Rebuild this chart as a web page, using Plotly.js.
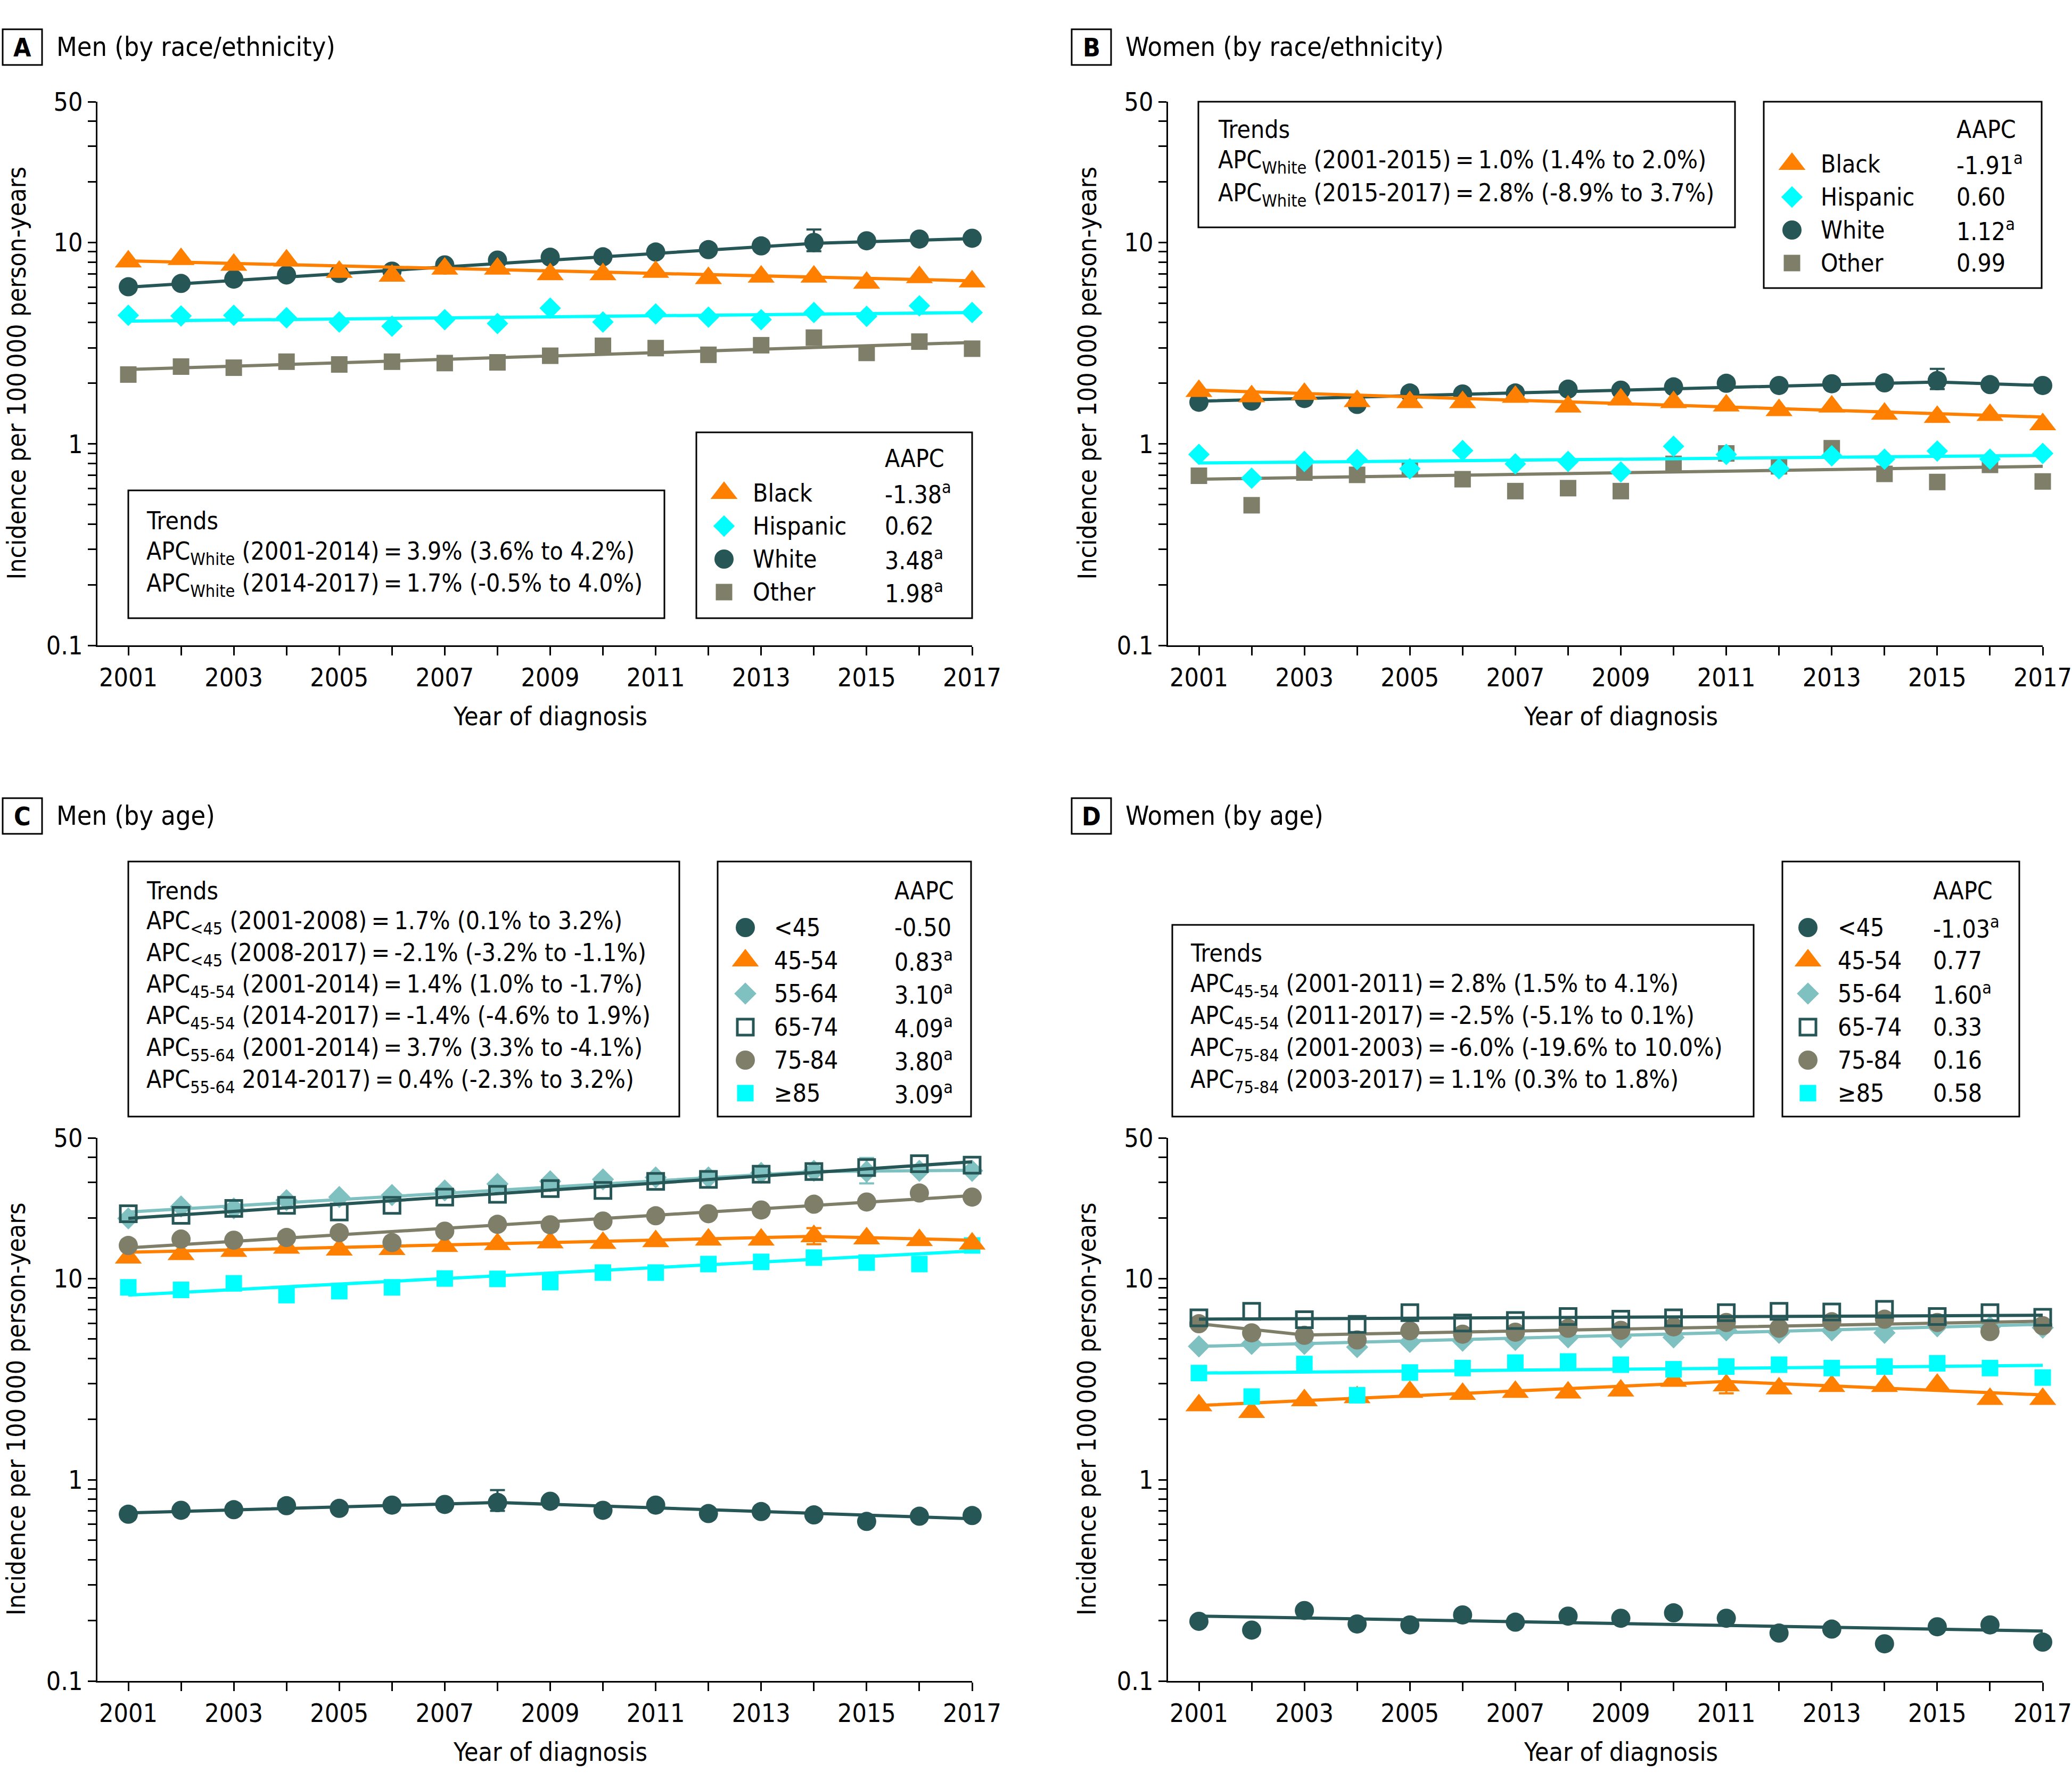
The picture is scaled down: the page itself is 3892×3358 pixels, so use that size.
<!DOCTYPE html>
<html>
<head>
<meta charset="utf-8">
<script src="https://cdn.plot.ly/plotly-3.0.1.min.js"></script>
<style>html,body{margin:0;padding:0;background:#fff;}#chart{width:3892px;height:3358px;}</style>
</head>
<body>
<div id="chart"></div>
<script>
// ---------------- DATA ----------------
const years = [2001,2002,2003,2004,2005,2006,2007,2008,2009,2010,2011,2012,2013,2014,2015,2016,2017];
const xTickVals = [2001,2003,2005,2007,2009,2011,2013,2015,2017];
const xTickText = ['2001','2003','2005','2007','2009','2011','2013','2015','2017'];
const xMinorVals = [2002,2004,2006,2008,2010,2012,2014,2016];
const yTickVals = [0.1, 1, 10, 50];
const yTickText = ['0.1', '1', '10', '50'];
const yMinorVals = [0.2,0.3,0.4,0.5,0.6,0.7,0.8,0.9,2,3,4,5,6,7,8,9,20,30,40];

// Panel A: Men by race/ethnicity
const aBlack    = [8.04,8.26,7.74,8.13,7.14,6.83,7.41,7.41,6.95,6.95,7.14,6.65,6.76,6.76,6.30,6.72,6.40];
const aHispanic = [4.35,4.32,4.35,4.23,4.03,3.84,4.14,3.96,4.72,4.03,4.42,4.26,4.14,4.49,4.30,4.85,4.49];
const aWhite    = [6.03,6.26,6.58,6.90,7.02,7.21,7.74,8.18,8.45,8.49,8.97,9.22,9.62,10.0,10.2,10.4,10.5];
const aOther    = [2.21,2.42,2.39,2.56,2.48,2.56,2.52,2.54,2.74,3.07,2.99,2.77,3.09,3.37,2.83,3.22,2.97];
const aBlackFitX = [2001,2017],       aBlackFitY = [8.1,6.45];
const aHispFitX  = [2001,2017],       aHispFitY  = [4.07,4.49];
const aWhiteFitX = [2001,2014,2017],  aWhiteFitY = [6.0,9.9,10.45];
const aOtherFitX = [2001,2017],       aOtherFitY = [2.34,3.19];
const aWhiteErr = {year:2014, value:10.0, plus:1.6, minus:0.95};

// Panel B: Women by race/ethnicity
const bBlack    = [1.83,1.72,1.77,1.63,1.61,1.61,1.71,1.53,1.66,1.61,1.55,1.47,1.53,1.41,1.36,1.39,1.25];
const bHispanic = [0.887,0.676,0.818,0.836,0.753,0.927,0.796,0.818,0.726,0.973,0.887,0.753,0.873,0.840,0.922,0.840,0.897];
const bWhite    = [1.61,1.63,1.68,1.57,1.79,1.77,1.79,1.87,1.85,1.92,2.00,1.95,1.99,2.01,2.06,1.97,1.95];
const bOther    = [0.695,0.496,0.721,0.702,0.753,0.668,0.583,0.603,0.583,0.796,0.897,0.774,0.952,0.710,0.647,0.787,0.651];
const bBlackFitX = [2001,2017],       bBlackFitY = [1.85,1.36];
const bHispFitX  = [2001,2017],       bHispFitY  = [0.804,0.877];
const bWhiteFitX = [2001,2015,2017],  bWhiteFitY = [1.63,2.03,1.95];
const bOtherFitX = [2001,2017],       bOtherFitY = [0.668,0.774];
const bWhiteErr = {year:2015, value:2.06, plus:0.30, minus:0.19};

// Panel C: Men by age
const cLt45 = [0.674,0.705,0.710,0.743,0.721,0.748,0.754,0.771,0.782,0.705,0.748,0.679,0.695,0.669,0.621,0.659,0.664];
const c4554 = [12.7,13.2,13.7,14.2,13.9,14.0,14.5,14.8,15.1,15.0,15.3,15.6,15.6,16.2,15.8,15.5,14.9];
const c5564 = [19.9,22.8,22.3,24.5,25.4,26.0,27.4,29.5,30.4,31.1,31.8,31.8,33.5,34.3,34.0,34.3,34.3];
const c6574 = [21.0,20.6,22.3,23.1,21.4,23.1,25.4,26.2,28.0,27.4,30.4,31.1,33.0,34.0,35.6,37.2,36.6];
const c7584 = [14.6,15.7,15.5,16.0,16.9,15.1,17.2,18.6,18.5,19.3,20.5,21.0,21.9,23.4,24.0,26.6,25.4];
const c85   = [9.04,8.78,9.46,8.27,8.65,9.04,10.0,9.96,9.60,10.7,10.7,11.8,12.1,12.7,12.0,11.8,14.6];
const cLt45FitX = [2001,2008,2017], cLt45FitY = [0.684,0.771,0.64];
const c4554FitX = [2001,2014,2017], c4554FitY = [13.5,16.2,15.5];
const c5564FitX = [2001,2014,2017], c5564FitY = [21.4,34.0,34.5];
const c6574FitX = [2001,2017],      c6574FitY = [19.9,38.0];
const c7584FitX = [2001,2017],      c7584FitY = [14.2,25.8];
const c85FitX   = [2001,2017],      c85FitY   = [8.27,13.7];
const cLt45Err = {year:2008, value:0.771, plus:0.117, minus:0.071};
const c4554Err = {year:2014, value:16.2, plus:1.6, minus:1.4};
const c5564Err = {year:2015, value:34.0, plus:5.7, minus:4.3};

// Panel D: Women by age
const dLt45 = [0.198,0.179,0.224,0.192,0.190,0.213,0.196,0.210,0.205,0.218,0.205,0.173,0.181,0.153,0.186,0.190,0.156];
const d4554 = [2.34,2.17,2.48,2.57,2.73,2.67,2.73,2.71,2.77,3.10,2.94,2.84,2.92,2.92,2.96,2.52,2.52];
const d5564 = [4.60,4.73,4.73,4.56,4.84,4.91,4.95,5.10,5.10,5.10,5.53,5.37,5.53,5.37,5.79,5.75,5.70];
const d6574 = [6.38,6.87,6.24,5.92,6.77,6.01,6.19,6.47,6.28,6.38,6.77,6.87,6.82,7.03,6.47,6.77,6.42];
const d7584 = [5.96,5.37,5.22,4.95,5.50,5.29,5.41,5.66,5.53,5.75,6.05,5.66,6.10,6.28,6.05,5.45,5.83];
const d85   = [3.39,2.59,3.76,2.63,3.41,3.59,3.82,3.87,3.73,3.54,3.65,3.73,3.59,3.65,3.79,3.59,3.22];
const dLt45FitX = [2001,2017],      dLt45FitY = [0.210,0.177];
const d4554FitX = [2001,2011,2017], d4554FitY = [2.34,3.08,2.64];
const d5564FitX = [2001,2017],      d5564FitY = [4.60,5.92];
const d6574FitX = [2001,2017],      d6574FitY = [6.28,6.57];
const d7584FitX = [2001,2003,2017], d7584FitY = [5.96,5.24,6.14];
const d85FitX   = [2001,2017],      d85FitY   = [3.39,3.70];
const d4554Err = {year:2011, value:2.94, plus:0.45, minus:0.25};

// Text content
const raceLabels = ['Black','Hispanic','White','Other'];
const aAAPC = ['-1.38<sup>a</sup>','0.62','3.48<sup>a</sup>','1.98<sup>a</sup>'];
const bAAPC = ['-1.91<sup>a</sup>','0.60','1.12<sup>a</sup>','0.99'];
const ageLabels = ['<45','45-54','55-64','65-74','75-84','≥85'];
const cAAPC = ['-0.50','0.83<sup>a</sup>','3.10<sup>a</sup>','4.09<sup>a</sup>','3.80<sup>a</sup>','3.09<sup>a</sup>'];
const dAAPC = ['-1.03<sup>a</sup>','0.77','1.60<sup>a</sup>','0.33','0.16','0.58'];
const aTrends = ['APC<sub>White</sub> (2001-2014)\u2009=\u20093.9% (3.6% to 4.2%)',
                 'APC<sub>White</sub> (2014-2017)\u2009=\u20091.7% (-0.5% to 4.0%)'];
const bTrends = ['APC<sub>White</sub> (2001-2015)\u2009=\u20091.0% (1.4% to 2.0%)',
                 'APC<sub>White</sub> (2015-2017)\u2009=\u20092.8% (-8.9% to 3.7%)'];
const cTrends = ['APC<sub>&lt;45</sub> (2001-2008)\u2009=\u20091.7% (0.1% to 3.2%)',
                 'APC<sub>&lt;45</sub> (2008-2017)\u2009=\u2009-2.1% (-3.2% to -1.1%)',
                 'APC<sub>45-54</sub> (2001-2014)\u2009=\u20091.4% (1.0% to -1.7%)',
                 'APC<sub>45-54</sub> (2014-2017)\u2009=\u2009-1.4% (-4.6% to 1.9%)',
                 'APC<sub>55-64</sub> (2001-2014)\u2009=\u20093.7% (3.3% to -4.1%)',
                 'APC<sub>55-64</sub> 2014-2017)\u2009=\u20090.4% (-2.3% to 3.2%)'];
const dTrends = ['APC<sub>45-54</sub> (2001-2011)\u2009=\u20092.8% (1.5% to 4.1%)',
                 'APC<sub>45-54</sub> (2011-2017)\u2009=\u2009-2.5% (-5.1% to 0.1%)',
                 'APC<sub>75-84</sub> (2001-2003)\u2009=\u2009-6.0% (-19.6% to 10.0%)',
                 'APC<sub>75-84</sub> (2003-2017)\u2009=\u20091.1% (0.3% to 1.8%)'];

// ---------------- STYLE / LAYOUT ----------------
const W = 3892, H = 3358;
const FONT = 'DejaVu Sans Condensed, DejaVu Sans, sans-serif';
const ORANGE = '#FF7F00', CYAN = '#00FFFF', TEAL = '#275656', GRAY = '#7F7E69', LTEAL = '#7FC0C0';
const TXT = 48, BOXTXT = 46;

const PX = x => x / W;
const PY = y => 1 - y / H;

const colL = {x0:183, x1:1826, first:241};
const colR = {x0:2194, x1:3837, first:2252};
const rowT = {y0:191, y1:1212};
const rowB = {y0:2137, y1:3157};
const pxPerYear = (colL.x1 - colL.first) / 16;
const XR = [2001 - (colL.first - colL.x0) / pxPerYear, 2017];

const MK = {
  triangle: {symbol:'triangle-up', size:44, color:ORANGE},
  diamondHisp: {symbol:'diamond', size:31, color:CYAN},
  circle: {symbol:'circle', size:36, color:TEAL},
  square: {symbol:'square', size:31, color:GRAY},
  diamond: {symbol:'diamond', size:32, color:LTEAL},
  squareOpen: {symbol:'square-open', size:30, color:TEAL, line:{color:TEAL, width:5}},
  circleGray: {symbol:'circle', size:36, color:GRAY},
  squareCyan: {symbol:'square', size:31, color:CYAN}
};

const traces = [];
function series(ax, y, fitX, fitY, mk, err) {
  traces.push({x:fitX, y:fitY, xaxis:ax[0], yaxis:ax[1], mode:'lines',
    line:{color:mk.color, width:6}, cliponaxis:false, hoverinfo:'skip'});
  traces.push({x:years, y:y, xaxis:ax[0], yaxis:ax[1], mode:'markers',
    marker:Object.assign({}, mk), cliponaxis:false});
  if (err) {
    traces.push({x:[err.year], y:[err.value], xaxis:ax[0], yaxis:ax[1], mode:'markers',
      marker:Object.assign({}, mk), cliponaxis:false,
      error_y:{type:'data', symmetric:false, array:[err.plus], arrayminus:[err.minus],
               color:mk.color, thickness:4, width:14}});
  }
}

// Panel A
series(['x','y'], aOther, aOtherFitX, aOtherFitY, MK.square);
series(['x','y'], aHispanic, aHispFitX, aHispFitY, MK.diamondHisp);
series(['x','y'], aWhite, aWhiteFitX, aWhiteFitY, MK.circle, aWhiteErr);
series(['x','y'], aBlack, aBlackFitX, aBlackFitY, MK.triangle);
// Panel B
series(['x2','y2'], bOther, bOtherFitX, bOtherFitY, MK.square);
series(['x2','y2'], bHispanic, bHispFitX, bHispFitY, MK.diamondHisp);
series(['x2','y2'], bWhite, bWhiteFitX, bWhiteFitY, MK.circle, bWhiteErr);
series(['x2','y2'], bBlack, bBlackFitX, bBlackFitY, MK.triangle);
// Panel C
series(['x3','y3'], cLt45, cLt45FitX, cLt45FitY, MK.circle, cLt45Err);
series(['x3','y3'], c85, c85FitX, c85FitY, MK.squareCyan);
series(['x3','y3'], c4554, c4554FitX, c4554FitY, MK.triangle, c4554Err);
series(['x3','y3'], c7584, c7584FitX, c7584FitY, MK.circleGray);
series(['x3','y3'], c5564, c5564FitX, c5564FitY, MK.diamond, c5564Err);
series(['x3','y3'], c6574, c6574FitX, c6574FitY, MK.squareOpen);
// Panel D
series(['x4','y4'], dLt45, dLt45FitX, dLt45FitY, MK.circle);
series(['x4','y4'], d4554, d4554FitX, d4554FitY, MK.triangle, d4554Err);
series(['x4','y4'], d85, d85FitX, d85FitY, MK.squareCyan);
series(['x4','y4'], d5564, d5564FitX, d5564FitY, MK.diamond);
series(['x4','y4'], d7584, d7584FitX, d7584FitY, MK.circleGray);
series(['x4','y4'], d6574, d6574FitX, d6574FitY, MK.squareOpen);

// Legend symbols on a hidden pixel-space overlay axis
function legendSymbols(xc, rowsY, mks) {
  mks.forEach((mk, i) => {
    traces.push({x:[xc], y:[rowsY[i]], xaxis:'x5', yaxis:'y5', mode:'markers',
      marker:Object.assign({}, mk), cliponaxis:false, hoverinfo:'skip'});
  });
}

const shapes = [];
const annotations = [];
function rect(x0, y0, x1, y1) {
  shapes.push({type:'rect', xref:'paper', yref:'paper', x0:PX(x0), x1:PX(x1), y0:PY(y1), y1:PY(y0),
    line:{color:'#000', width:3}, fillcolor:'rgba(0,0,0,0)'});
}
function text(x, y, s, opts) {
  annotations.push(Object.assign({xref:'paper', yref:'paper', x:PX(x), y:PY(y), text:s, showarrow:false,
    xanchor:'left', yanchor:'middle', font:{family:FONT, size:BOXTXT, color:'#000'}}, opts || {}));
}

function panelLabel(bx, by, letter, title) {
  rect(bx, by, bx + 74, by + 67);
  text(bx + 37, by + 34, '<b>' + letter + '</b>', {xanchor:'center', font:{family:FONT, size:TXT, color:'#000'}});
  text(bx + 99, by + 33, title, {font:{family:FONT, size:50, color:'#000'}});
}
panelLabel(5, 55, 'A', 'Men (by race/ethnicity)');
panelLabel(2013, 55, 'B', 'Women (by race/ethnicity)');
panelLabel(5, 1499, 'C', 'Men (by age)');
panelLabel(2013, 1499, 'D', 'Women (by age)');

function axisTitles(col, row) {
  const xc = col.first + 8 * pxPerYear;
  text(xc, row.y1 + 133, 'Year of diagnosis', {xanchor:'center', font:{family:FONT, size:TXT, color:'#000'}});
  text(col.x0 - 153, (row.y0 + row.y1) / 2, 'Incidence per 100\u2009000 person-years',
       {xanchor:'center', textangle:-90, font:{family:FONT, size:TXT, color:'#000'}});
}
axisTitles(colL, rowT); axisTitles(colR, rowT); axisTitles(colL, rowB); axisTitles(colR, rowB);

function trendsBox(x0, y0, x1, y1, tx, ty, lines, dy) {
  rect(x0, y0, x1, y1);
  text(tx, ty, 'Trends');
  lines.forEach((l, i) => text(tx, ty + (i + 1) * dy, l));
}
trendsBox(241, 921, 1248, 1161, 273, 978, aTrends, 60);
trendsBox(2251, 191, 3259, 427, 2286, 243, bTrends, 61);
trendsBox(241, 1618, 1276, 2097, 273, 1673, cTrends, 59.5);
trendsBox(2202, 1737, 3294, 2097, 2234, 1790, dTrends, 60);

function aapcBox(x0, y0, x1, y1, mx, lx, vx, hy, rows, labels, vals, mks) {
  rect(x0, y0, x1, y1);
  text(vx, hy, 'AAPC');
  labels.forEach((l, i) => {
    text(lx, rows[i], l.replace('<', '&lt;'));
    text(vx, rows[i], vals[i]);
  });
  legendSymbols(mx, rows, mks);
}
aapcBox(1308, 812, 1826, 1161, 1360, 1412, 1660, 861, [926,988,1050,1112], raceLabels, aAAPC,
        [MK.triangle, MK.diamondHisp, MK.circle, MK.square]);
aapcBox(3313, 191, 3835, 541, 3366, 3418, 3673, 243, [308,370,432,494], raceLabels, bAAPC,
        [MK.triangle, MK.diamondHisp, MK.circle, MK.square]);
aapcBox(1348, 1618, 1824, 2097, 1400, 1452, 1678, 1673, [1742,1804,1866,1929,1991,2053], ageLabels, cAAPC,
        [MK.circle, MK.triangle, MK.diamond, MK.squareOpen, MK.circleGray, MK.squareCyan]);
aapcBox(3348, 1618, 3793, 2097, 3396, 3450, 3629, 1673, [1742,1804,1866,1929,1991,2053], ageLabels, dAAPC,
        [MK.circle, MK.triangle, MK.diamond, MK.squareOpen, MK.circleGray, MK.squareCyan]);

function xAxis(col, anchor) {
  return {domain:[PX(col.x0), PX(col.x1)], anchor:anchor, range:XR, showline:true, linecolor:'#000', linewidth:3,
    ticks:'outside', ticklen:16, tickwidth:3, tickcolor:'#000', tickmode:'array', tickvals:xTickVals, ticktext:xTickText,
    minor:{tickmode:'array', tickvals:xMinorVals, ticks:'outside', ticklen:16, tickwidth:3, tickcolor:'#000', showgrid:false},
    showgrid:false, zeroline:false, tickfont:{family:FONT, size:TXT, color:'#000'}, fixedrange:true, automargin:false};
}
function yAxis(row, anchor) {
  return {domain:[PY(row.y1), PY(row.y0)], anchor:anchor, type:'log', range:[-1, Math.log10(50)],
    showline:true, linecolor:'#000', linewidth:3, ticks:'outside', ticklen:15, tickwidth:3, tickcolor:'#000',
    tickmode:'array', tickvals:yTickVals, ticktext:yTickText,
    minor:{tickmode:'array', tickvals:yMinorVals, ticks:'outside', ticklen:15, tickwidth:3, tickcolor:'#000', showgrid:false},
    showgrid:false, zeroline:false, tickfont:{family:FONT, size:TXT, color:'#000'}, fixedrange:true, automargin:false};
}

const layout = {
  width:W, height:H, margin:{l:0, r:0, t:0, b:0, pad:0},
  paper_bgcolor:'#fff', plot_bgcolor:'rgba(0,0,0,0)', showlegend:false,
  xaxis: xAxis(colL, 'y'),  yaxis: yAxis(rowT, 'x'),
  xaxis2: xAxis(colR, 'y2'), yaxis2: yAxis(rowT, 'x2'),
  xaxis3: xAxis(colL, 'y3'), yaxis3: yAxis(rowB, 'x3'),
  xaxis4: xAxis(colR, 'y4'), yaxis4: yAxis(rowB, 'x4'),
  xaxis5: {domain:[0,1], anchor:'y5', range:[0,W], visible:false, fixedrange:true},
  yaxis5: {domain:[0,1], anchor:'x5', range:[H,0], visible:false, fixedrange:true},
  shapes: shapes, annotations: annotations
};

Plotly.newPlot('chart', traces, layout, {displayModeBar:false, staticPlot:true});
</script>
</body>
</html>
